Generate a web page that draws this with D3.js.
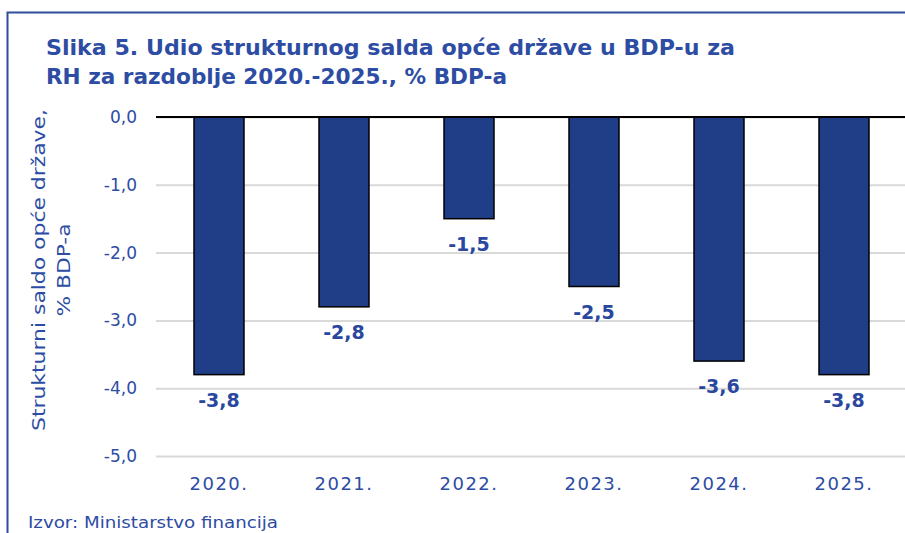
<!DOCTYPE html>
<html><head><meta charset="utf-8">
<script src="https://cdn.jsdelivr.net/npm/d3@7"></script>
<style>body{margin:0;background:#fff}svg{display:block}text{font-family:"DejaVu Sans",sans-serif}</style>
</head><body><div id="c"></div>
<script>
const categories = ["2020.","2021.","2022.","2023.","2024.","2025."];
const values = [-3.8,-2.8,-1.5,-2.5,-3.6,-3.8];
const valueLabels = ["-3,8","-2,8","-1,5","-2,5","-3,6","-3,8"];
const yTicks = [0,-1,-2,-3,-4,-5];
const titleLines = ["Slika 5. Udio strukturnog salda opće države u BDP-u za","RH za razdoblje 2020.-2025., % BDP-a"];
const yTitleLines = ["Strukturni saldo opće države,","% BDP-a"];
const source = "Izvor: Ministarstvo financija";

const W=905,H=533;
const blue="#2d4ca3", barFill="#1f3e87";
const font="'DejaVu Sans',sans-serif";
const svg=d3.select("#c").append("svg").attr("width",W).attr("height",H);
// frame
svg.append("path").attr("d",`M7.5,${H+2}V12.5H${W+2}`).attr("fill","none").attr("stroke","#2e4d9c").attr("stroke-width",2);

const x=d3.scaleBand().domain(categories).range([156.5,906.5]).paddingInner(0.6).paddingOuter(0.3);
const y=d3.scaleLinear().domain([-5,0]).range([456,117]);

const titleLen=[689,461];
svg.append("g").selectAll("text").data(titleLines).join("text")
  .attr("x",46).attr("y",(d,i)=>55+i*29).attr("fill",blue).attr("font-weight",700).attr("font-size",21)
  .attr("textLength",(d,i)=>titleLen[i]).attr("lengthAdjust","spacingAndGlyphs").text(d=>d);

// grid
const yAxis=d3.axisLeft(y).tickValues(yTicks).tickSize(-(W-156)).tickFormat(d=>d3.format(".1f")(d).replace(".",",").replace("−","-"));
const ga=svg.append("g").attr("transform","translate(156,0)").call(yAxis);
ga.select(".domain").remove();
ga.selectAll(".tick line").attr("stroke","#d9d9d9").attr("stroke-width",2);
ga.selectAll(".tick text").attr("x",-19).attr("fill",blue).attr("font-size",17).style("font-family",font);

// bars
svg.append("g").selectAll("rect").data(values).join("rect")
  .attr("x",(d,i)=>x(categories[i])).attr("width",x.bandwidth())
  .attr("y",y(0)).attr("height",d=>y(d)-y(0))
  .attr("fill",barFill).attr("stroke","#000").attr("stroke-width",1.5);

// zero line
svg.append("line").attr("x1",156).attr("x2",W).attr("y1",y(0)).attr("y2",y(0)).attr("stroke","#000").attr("stroke-width",2);

// value labels
svg.append("g").selectAll("text").data(values).join("text")
  .attr("x",(d,i)=>x(categories[i])+x.bandwidth()/2).attr("y",d=>y(d)+32)
  .attr("text-anchor","middle").attr("fill","#2a47a0").attr("font-weight",700).attr("font-size",19)
  .text((d,i)=>valueLabels[i]);

// x labels
const xa=svg.append("g").attr("transform","translate(0,456)").call(d3.axisBottom(x).tickSize(0).tickPadding(0));
xa.select(".domain").remove();
xa.selectAll(".tick text").attr("y",34).attr("dy",0).attr("fill",blue).attr("font-size",18).attr("letter-spacing",1.5).style("font-family",font);

// y title
const ytLen=[322,93];
svg.append("g").selectAll("text").data(yTitleLines).join("text")
  .attr("transform",(d,i)=>`translate(${45+i*25},270) rotate(-90)`)
  .attr("text-anchor","middle").attr("fill",blue).attr("font-size",18)
  .attr("textLength",(d,i)=>ytLen[i]).attr("lengthAdjust","spacingAndGlyphs").text(d=>d);

svg.append("text").attr("x",28).attr("y",528).attr("fill",blue).attr("font-size",16)
  .attr("textLength",250).attr("lengthAdjust","spacingAndGlyphs").text(source);
</script></body></html>
